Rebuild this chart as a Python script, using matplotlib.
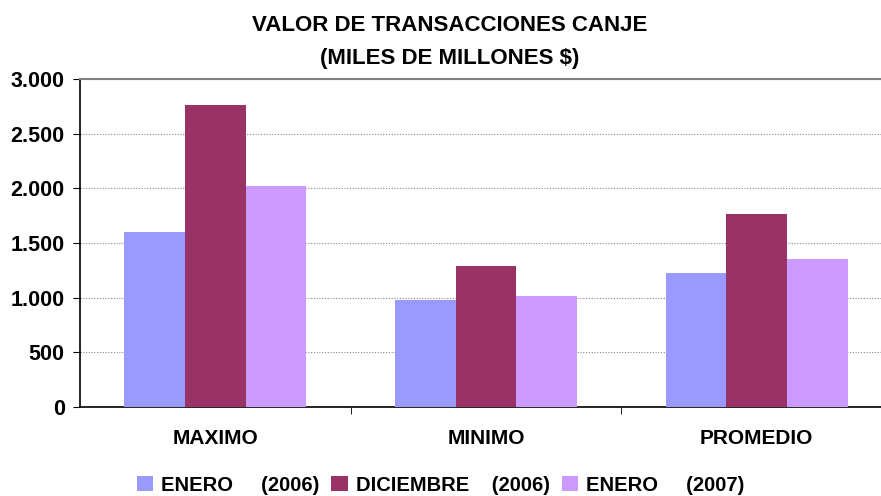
import matplotlib.pyplot as plt
import numpy as np

plt.rcParams['font.family'] = ['Liberation Sans', 'DejaVu Sans']

# Datos
categorias = ["MAXIMO", "MINIMO", "PROMEDIO"]
series = ["ENERO     (2006)", "DICIEMBRE    (2006)", "ENERO     (2007)"]
enero_2006 = [1605, 982, 1229]
diciembre_2006 = [2760, 1294, 1761]
enero_2007 = [2018, 1018, 1358]
colores = ["#9999FF", "#993366", "#CC99FF"]
yticks = [0, 500, 1000, 1500, 2000, 2500, 3000]
ylabels = ["0", "500", "1.000", "1.500", "2.000", "2.500", "3.000"]

fig = plt.figure(figsize=(8.81, 4.96), dpi=100)
ax = fig.add_axes([0.0908, 0.1794, 0.9217, 0.6613])

x = np.arange(len(categorias))
ancho = 0.224
valores = [enero_2006, diciembre_2006, enero_2007]
for i, (vals, col, lab) in enumerate(zip(valores, colores, series)):
    ax.bar(x + (i - 1) * ancho, vals, ancho, color=col, label=lab, zorder=3)

ax.set_xlim(-0.5, 2.5)
ax.set_ylim(0, 3000)
ax.set_yticks(yticks)
ax.set_yticklabels(ylabels, fontsize=15.5, fontweight='bold')
ax.set_xticks(x)
ax.set_xticklabels(categorias, fontsize=15, fontweight='bold')
ax.tick_params(axis='x', which='major', length=0, pad=16)
ax.set_xticks([0.5, 1.5], minor=True)
ax.tick_params(axis='x', which='minor', length=5, color='black', direction='out')
ax.tick_params(axis='y', length=5, direction='out', pad=6)

ax.yaxis.grid(True, linestyle=(0, (1, 1.5)), color='#888888', linewidth=0.8, zorder=0)
for s in ['left', 'bottom']:
    ax.spines[s].set_color('black')
    ax.spines[s].set_linewidth(1.2)
ax.spines['top'].set_color('#808080')
ax.spines['top'].set_linewidth(1.5)
ax.spines['right'].set_visible(False)

fig.text(0.51, 0.949, "VALOR DE TRANSACCIONES CANJE", ha='center', va='center',
         fontsize=16, fontweight='bold')
fig.text(0.51, 0.883, "(MILES DE MILLONES $)", ha='center', va='center',
         fontsize=16, fontweight='bold')

leg = fig.legend(loc='center', bbox_to_anchor=(0.5, 0.022), ncol=3, frameon=False,
                 prop={'size': 14.5, 'weight': 'bold'}, handlelength=0.8, handleheight=0.8,
                 handletextpad=0.4, columnspacing=0.6)

fig.savefig("out.png", dpi=100)
